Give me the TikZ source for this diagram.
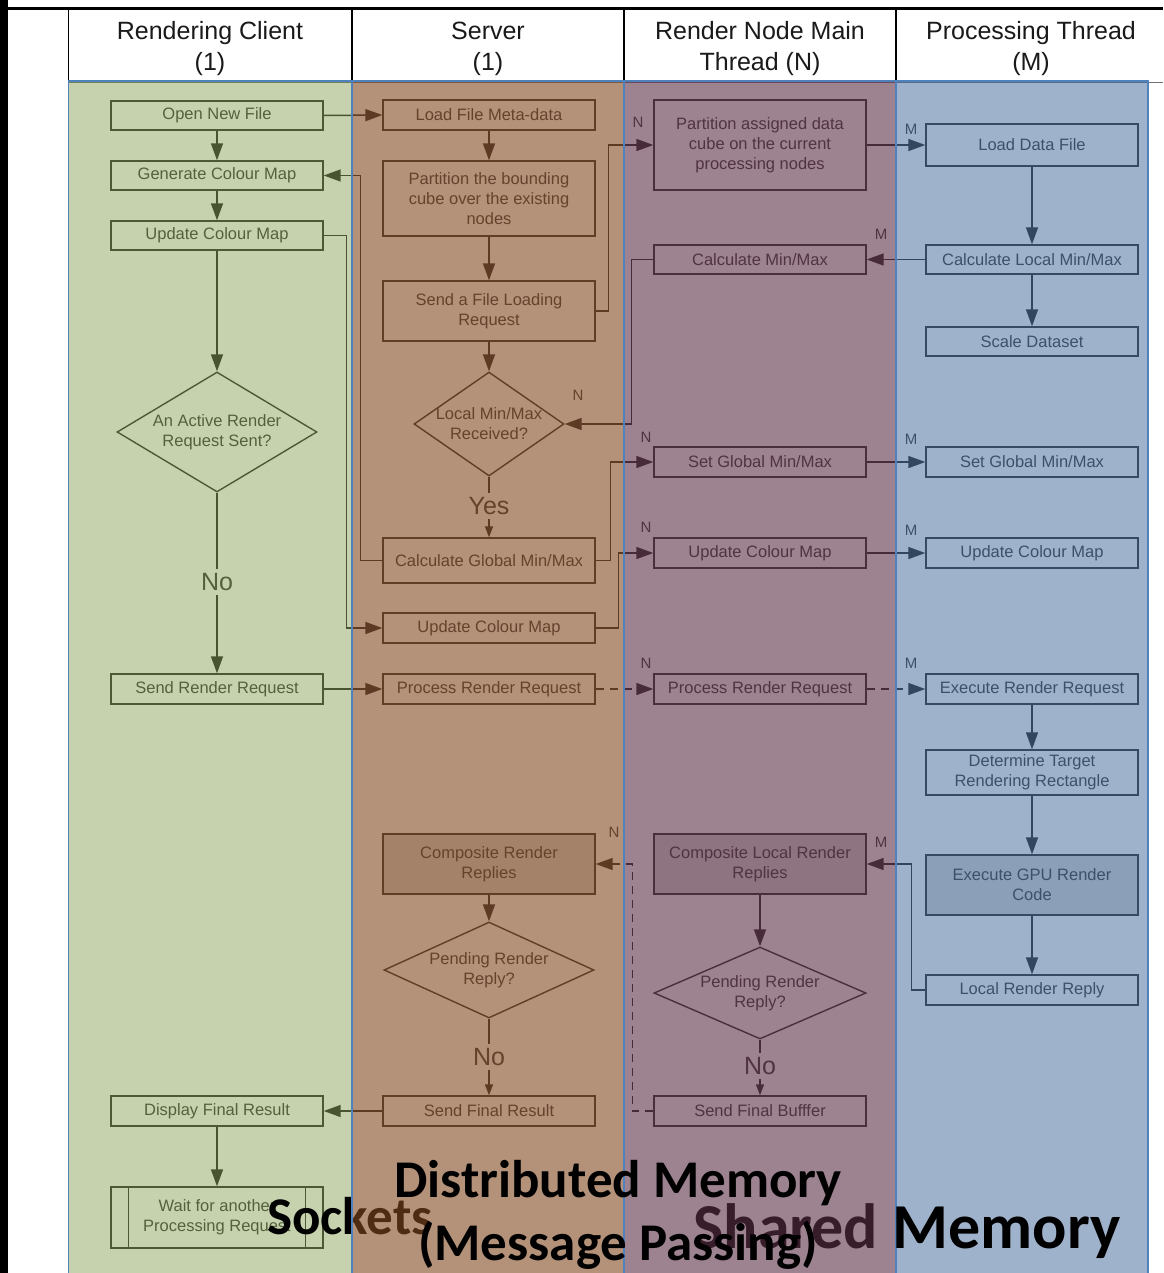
\documentclass[tikz,border=0pt]{standalone}
\usepackage{fontspec}
\setmainfont{Liberation Sans}
\newfontfamily\bigfont{Carlito}
\usetikzlibrary{shapes.geometric,arrows.meta}

\definecolor{flowline}{HTML}{262626}
\definecolor{boxline}{HTML}{2E2E2E}
\definecolor{boxtext}{HTML}{3A3A3A}
\definecolor{boxshade}{HTML}{D9D9D9}
\definecolor{headtext}{HTML}{1A1A1A}
\definecolor{laneborder}{HTML}{4F81BD}
\definecolor{clientlane}{RGB}{121,150,64}
\definecolor{serverlane}{RGB}{130,72,33}
\definecolor{renderlane}{RGB}{93,47,70}
\definecolor{proclane}{RGB}{65,103,153}

\begin{document}
\begin{tikzpicture}[x=1pt,y=-1pt,
  head/.style={align=center, text=headtext, inner sep=0pt,
    font=\fontsize{25}{31}\selectfont},
  box/.style={draw=boxline, line width=1.4pt, fill=white, text=boxtext,
    minimum width=212pt, inner sep=0pt, align=center,
    font=\fontsize{16.5}{20}\selectfont},
  shaded/.style={box, fill=boxshade},
  decision/.style={draw=boxline, line width=1.4pt, fill=white, shape=diamond,
    inner sep=0pt},
  dtext/.style={text=boxtext, align=center, inner sep=0pt,
    font=\fontsize{16.5}{20}\selectfont},
  flow/.style={draw=flowline, line width=1.5pt,
    -{Triangle[length=17pt,width=12pt]}},
  shortflow/.style={draw=flowline, line width=1.5pt,
    -{Triangle[length=11pt,width=8pt]}},
  link/.style={draw=flowline, line width=1.5pt},
  msg/.style={flow, dash pattern=on 8pt off 6pt},
  mult/.style={text=boxtext, inner sep=0pt, font=\fontsize{15}{15}\selectfont},
  answer/.style={text=boxtext, inner sep=4pt, font=\fontsize{25}{25}\selectfont},
  lane/.style={draw=laneborder, line width=1.6pt, draw opacity=1},
  bigtext/.style={font=\bigfont\bfseries\fontsize{53}{53}\selectfont, inner sep=0pt, text=black},
  hugetext/.style={font=\bigfont\bfseries\fontsize{64}{64}\selectfont, inner sep=0pt, text=black}
]
\useasboundingbox (0,0) rectangle (1163,1273);
\fill[white] (0,0) rectangle (1163,1273);

% page frame and swimlane grid
\fill[black] (0,0) rectangle (8,1273);
\draw[line width=3pt] (8,8.5) -- (1163,8.5);
\foreach \x in {68.5,352,624,896}
  \draw[line width=1.6pt] (\x,8.5) -- (\x,1280);
\draw[line width=1pt, black!55] (68,83) -- (1163,83);

% lane headers
\node[head] (hClient) at (210,48.5) {Rendering Client\\(1)};
\node[head] (hServer) at (488,48.5) {Server\\(1)};
\node[head] (hRender) at (760,48.5) {Render Node Main\\Thread (N)};
\node[head] (hProc)   at (1031,48.5) {Processing Thread\\(M)};

% ---- rendering client ----
\node[box, minimum height=29pt] (cOpen) at (217,115.5) {Open New File};
\node[box, minimum height=29pt] (cGen)  at (217,175.5) {Generate Colour Map};
\node[box, minimum height=29pt] (cUpd)  at (217,235.5) {Update Colour Map};
\node[decision, minimum width=200pt, minimum height=120pt,
      label={[dtext]center:An Active Render\\Request Sent?}] (cAct) at (217,432) {};
\node[answer] (cNo) at (217,582) {No};
\node[box, minimum height=30pt] (cSend) at (217,689) {Send Render Request};
\node[box, minimum height=30pt] (cDisp) at (217,1111) {Display Final Result};
\node[box, minimum height=61pt] (cWait) at (217,1217.5) {Wait for another\\Processing Request};
\draw[draw=boxline, line width=1.4pt]
  ([xshift=18pt]cWait.north west) -- ([xshift=18pt]cWait.south west)
  ([xshift=-18pt]cWait.north east) -- ([xshift=-18pt]cWait.south east);

% ---- server ----
\node[box, minimum height=30pt] (sLoad) at (489,115) {Load File Meta-data};
\node[box, minimum height=75pt] (sPart) at (489,198.5) {Partition the bounding\\cube over the existing\\nodes};
\node[box, minimum height=60pt] (sSend) at (489,311) {Send a File Loading\\Request};
\node[decision, minimum width=150pt, minimum height=104pt,
      label={[dtext]center:Local Min/Max\\Received?}] (sRecv) at (489,424) {};
\node[answer] (sYes) at (489,506) {Yes};
\node[box, minimum height=45pt] (sCalc) at (489,560.5) {Calculate Global Min/Max};
\node[box, minimum height=30pt] (sUpd)  at (489,628) {Update Colour Map};
\node[box, minimum height=30pt] (sProc) at (489,689) {Process Render Request};
\node[shaded, minimum height=60pt] (sComp) at (489,864) {Composite Render\\Replies};
\node[decision, minimum width=210pt, minimum height=96pt,
      label={[dtext]center:Pending Render\\Reply?}] (sPend) at (489,970) {};
\node[answer] (sNo) at (489,1057) {No};
\node[box, minimum height=30pt] (sFinal) at (489,1111) {Send Final Result};

% ---- render node main thread ----
\node[box, minimum height=90pt] (rPart) at (760,145) {Partition assigned data\\cube on the current\\processing nodes};
\node[box, minimum height=29pt] (rCalc) at (760,259.5) {Calculate Min/Max};
\node[box, minimum height=30pt] (rSet)  at (760,462) {Set Global Min/Max};
\node[box, minimum height=30pt] (rUpd)  at (760,553) {Update Colour Map};
\node[box, minimum height=30pt] (rProc) at (760,689) {Process Render Request};
\node[shaded, minimum height=60pt] (rComp) at (760,864) {Composite Local Render\\Replies};
\node[decision, minimum width=212pt, minimum height=92pt,
      label={[dtext]center:Pending Render\\Reply?}] (rPend) at (760,993) {};
\node[answer] (rNo) at (760,1066) {No};
\node[box, minimum height=30pt] (rFinal) at (760,1111) {Send Final Bufffer};

% ---- processing thread ----
\node[box, minimum height=42pt] (pLoad)  at (1032,145) {Load Data File};
\node[box, minimum height=29pt] (pCalc)  at (1032,259.5) {Calculate Local Min/Max};
\node[box, minimum height=29pt] (pScale) at (1032,341.5) {Scale Dataset};
\node[box, minimum height=30pt] (pSet)   at (1032,462) {Set Global Min/Max};
\node[box, minimum height=30pt] (pUpd)   at (1032,553) {Update Colour Map};
\node[box, minimum height=30pt] (pExec)  at (1032,689) {Execute Render Request};
\node[box, minimum height=45pt] (pDet)   at (1032,772.5) {Determine Target\\Rendering Rectangle};
\node[shaded, minimum height=60pt] (pGpu) at (1032,885) {Execute GPU Render\\Code};
\node[box, minimum height=30pt] (pReply) at (1032,990) {Local Render Reply};

% multiplicity marks
\node[mult] (mN1) at (638,122) {N};
\node[mult] (mM1) at (911,129) {M};
\node[mult] (mM2) at (881,234) {M};
\node[mult] (mN2) at (578,395) {N};
\node[mult] (mN3) at (646,437) {N};
\node[mult] (mM3) at (911,439) {M};
\node[mult] (mN4) at (646,527) {N};
\node[mult] (mM4) at (911,530) {M};
\node[mult] (mN5) at (646,663) {N};
\node[mult] (mM5) at (911,663) {M};
\node[mult] (mN6) at (614,832) {N};
\node[mult] (mM6) at (881,842) {M};

% ---- client flow ----
\draw[flow] (cOpen) -- (cGen);
\draw[flow] (cGen) -- (cUpd);
\draw[flow] (cUpd) -- (cAct.north);
\draw[link] (cAct.south) -- (cNo.north);
\draw[flow] (cNo.south) -- (cSend.north);
\draw[flow] (cDisp) -- (cWait);

% ---- client / server exchange ----
\draw[flow] (cOpen.east) -- (sLoad.west);
\draw[flow] (sCalc.west) -- ++(-22,0) |- (cGen.east);
\draw[flow] (cUpd.east) -- ++(23,0) |- (sUpd.west);
\draw[flow] (cSend.east) -- (sProc.west);
\draw[flow] (sFinal.west) -- (cDisp.east);

% ---- server flow ----
\draw[flow] (sLoad) -- (sPart);
\draw[flow] (sPart) -- (sSend);
\draw[flow] (sSend) -- (sRecv.north);
\draw[link] (sRecv.south) -- (sYes.north);
\draw[shortflow] (sYes.south) -- (sCalc.north);
\draw[flow] (sComp) -- (sPend.north);
\draw[link] (sPend.south) -- (sNo.north);
\draw[shortflow] (sNo.south) -- (sFinal.north);

% ---- server / render node messages ----
\draw[flow] (sSend.east) -- ++(13,0) |- (rPart.west);
\draw[flow] (rCalc.west) -- ++(-22,0) |- (sRecv.east);
\draw[flow] (sCalc.east) -- ++(15,0) |- (rSet.west);
\draw[flow] (sUpd.east) -- ++(23,0) |- (rUpd.west);
\draw[msg] (sProc.east) -- (rProc.west);
\draw[msg] (rFinal.west) -- ++(-21,0) |- (sComp.east);

% ---- render node flow ----
\draw[flow] (rComp) -- (rPend.north);
\draw[link] (rPend.south) -- (rNo.north);
\draw[shortflow] (rNo.south) -- (rFinal.north);

% ---- render node / processing thread ----
\draw[flow] (rPart.east) -- (pLoad.west);
\draw[flow] (pCalc.west) -- (rCalc.east);
\draw[flow] (rSet.east) -- (pSet.west);
\draw[flow] (rUpd.east) -- (pUpd.west);
\draw[msg] (rProc.east) -- (pExec.west);
\draw[flow] (pReply.west) -- ++(-14,0) |- (rComp.east);

% ---- processing thread flow ----
\draw[flow] (pLoad) -- (pCalc);
\draw[flow] (pCalc) -- (pScale);
\draw[flow] (pExec) -- (pDet);
\draw[flow] (pDet) -- (pGpu);
\draw[flow] (pGpu) -- (pReply);

% ---- memory-model bands ----
\path[lane, fill=clientlane, fill opacity=0.42] (68.5,81) rectangle (351.5,1290);
\path[lane, fill=proclane, fill opacity=0.5] (896,81) rectangle (1148,1290);

\node[bigtext, anchor=base] (sockets) at (350,1234) {Sockets};
\node[hugetext, anchor=base] (shared) at (907,1248) {Shared Memory};

\path[lane, fill=serverlane, fill opacity=0.6] (352,81) rectangle (624,1290);
\path[lane, fill=renderlane, fill opacity=0.6] (624.5,81) rectangle (895.5,1290);

\node[bigtext, anchor=base] (distributed) at (618,1197) {Distributed Memory};
\node[bigtext, anchor=base] (passing) at (618,1260) {(Message Passing)};
\end{tikzpicture}
\end{document}
